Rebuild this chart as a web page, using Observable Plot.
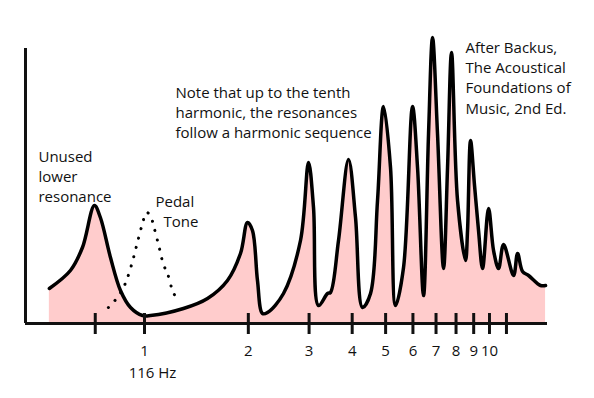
<!DOCTYPE html>
<html>
<head>
<meta charset="utf-8">
<script src="https://cdn.jsdelivr.net/npm/d3@7"></script>
<script src="https://cdn.jsdelivr.net/npm/@observablehq/plot@0.6"></script>
<style>
  html, body { margin: 0; padding: 0; background: #fff; }
</style>
</head>
<body>
<div id="chart"></div>
<script>
// Resonance curve: frequency in multiples of the 116 Hz pedal tone, relative amplitude
const harmonic = [0.530, 0.610, 0.661, 0.716, 0.745, 0.797, 0.852, 0.911, 0.987, 1.041,
  1.297, 1.523, 1.740, 1.898, 1.989, 2.056, 2.126, 2.198, 2.273, 2.529,
  2.833, 2.989, 3.090, 3.195, 3.393, 3.461, 3.651, 3.903, 4.090, 4.286,
  4.521, 4.737, 4.931, 5.166, 5.342, 5.635, 5.984, 6.187, 6.440, 6.659,
  6.839, 7.069, 7.360, 7.559, 7.763, 8.081, 8.524, 8.638, 8.813, 9.051,
  9.296, 9.548, 9.938, 10.276, 10.625, 10.985, 11.744, 12.063, 12.472, 12.982,
  14.063, 14.54];
const amplitude = [35, 53, 76, 118, 106, 66, 33, 16, 8, 8,
  15, 25, 43, 70, 101, 93, 43, 10, 11, 30,
  83, 161, 116, 18, 30, 31, 83, 164, 106, 16,
  30, 123, 217, 156, 18, 56, 217, 156, 28, 190,
  286, 190, 55, 156, 271, 123, 63, 93, 183, 138,
  93, 55, 115, 73, 55, 79, 48, 70, 52, 48,
  38, 38];

// Pedal tone (dotted) curve
const pedalHarmonic = [0.786, 0.835, 0.863, 0.887, 0.923, 0.954, 0.987, 1.013, 1.041, 1.062, 1.098, 1.135, 1.166, 1.206, 1.255];
const pedalAmplitude = [16, 26, 34, 43, 62, 81, 100, 111, 108, 98, 79, 59, 50, 33, 21];

// Axis ticks
const tickMarks = [0.72, 1, 2, 3, 4, 5, 6, 7, 8, 9, 10, 11.2];
const tickLabels = [1, 2, 3, 4, 5, 6, 7, 8, 9, 10];

const curve = harmonic.map((h, i) => ({h, a: amplitude[i]}));
const pedal = pedalHarmonic.map((h, i) => ({h, a: pedalAmplitude[i]}));

const ink = "#111";
const font = "'Open Sans', sans-serif";

const chart = Plot.plot({
  width: 594,
  height: 398,
  marginLeft: 25,
  marginRight: 47,
  marginTop: 48,
  marginBottom: 75,
  style: {fontFamily: font, fontSize: "15px", color: ink, background: "#fff"},
  x: {type: "log", domain: [0.452, 14.73], axis: null},
  y: {domain: [0, 275], axis: null},
  marks: [
    Plot.areaY(curve, {x: "h", y: "a", fill: "#ffcccc", curve: "catmull-rom"}),
    Plot.line(curve, {x: "h", y: "a", stroke: "#000", strokeWidth: 3.5, curve: "catmull-rom", strokeLinejoin: "round"}),
    Plot.line(pedal, {x: "h", y: "a", stroke: "#000", strokeWidth: 3, strokeLinecap: "round", strokeDasharray: "0.1 9.5", curve: "catmull-rom"}),
    Plot.ruleY([0], {stroke: ink, strokeWidth: 3}),
    Plot.ruleX([0.452], {stroke: ink, strokeWidth: 3}),
    Plot.ruleX(tickMarks, {x: d => d, y1: -11, y2: 10, stroke: ink, strokeWidth: 3}),
    Plot.text(tickLabels, {x: d => d, y: 0, text: d => String(d), dy: 32, lineAnchor: "bottom", fill: ink, fontSize: 15}),
    Plot.text(["116 Hz"], {x: 1.055, y: 0, dy: 54, lineAnchor: "bottom", fill: ink, fontSize: 15}),
    Plot.text(["Unused\nlower\nresonance"], {x: 0.4928, y: 122, textAnchor: "start", lineAnchor: "bottom", lineHeight: 1.33, fill: ink, fontSize: 15}),
    Plot.text(["Pedal"], {x: 1.076, y: 117, textAnchor: "start", lineAnchor: "bottom", fill: ink, fontSize: 15}),
    Plot.text(["Tone"], {x: 1.135, y: 97, textAnchor: "start", lineAnchor: "bottom", fill: ink, fontSize: 15}),
    Plot.text(["Note that up to the tenth\nharmonic, the resonances\nfollow a harmonic sequence"], {x: 1.230, y: 186, textAnchor: "start", lineAnchor: "bottom", lineHeight: 1.33, fill: ink, fontSize: 15}),
    Plot.text(["After Backus,\nThe Acoustical\nFoundations of\nMusic, 2nd Ed."], {x: 8.524, y: 210, textAnchor: "start", lineAnchor: "bottom", lineHeight: 1.35, fill: ink, fontSize: 15})
  ]
});
document.getElementById("chart").appendChild(chart);
</script>
</body>
</html>
